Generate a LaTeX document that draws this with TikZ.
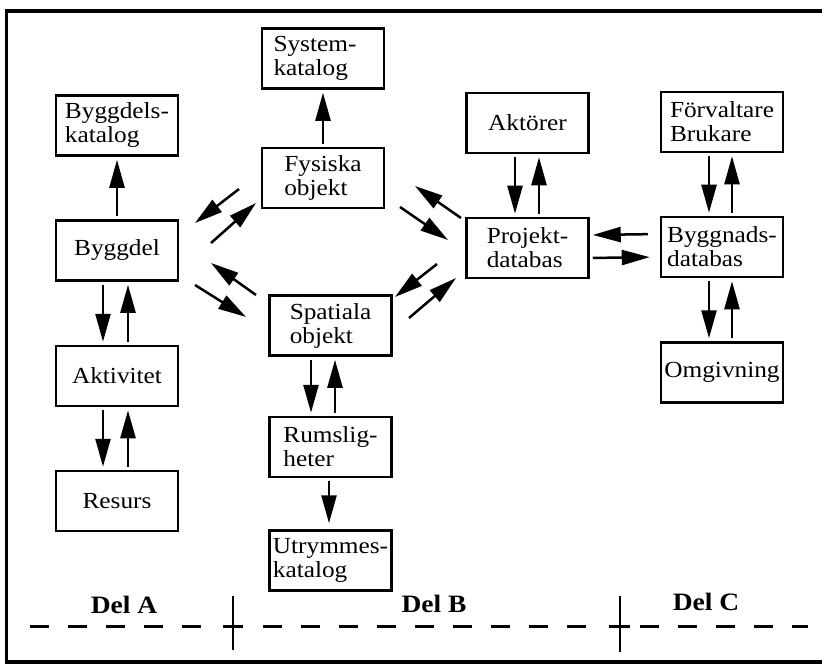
\documentclass[tikz,border=0pt]{standalone}
\usepackage{fontspec}
\setmainfont{Liberation Serif}[FakeStretch=1.1]
\usetikzlibrary{arrows.meta}

\tikzset{
  box/.style={draw, line width=2.5bp, minimum width=122bp, minimum height=60bp,
    inner sep=0pt, align=left, font=\fontsize{23bp}{24bp}\selectfont},
  arr/.style={line width=2.5bp, -{Triangle[length=28bp,width=15bp]}},
  link/.style={arr, shorten <=3bp, shorten >=3bp},
  dellabel/.style={anchor=base, font=\fontsize{25bp}{26bp}\selectfont\bfseries},
  delline/.style={line width=3bp, dash pattern=on 19bp off 19bp}
}

\begin{document}
\begin{tikzpicture}[x=1bp, y=-1bp]
	\useasboundingbox (0,0) rectangle (822,665);
	\draw[line width=3.5bp] (822,11) -- (6.5,11) -- (6.5,662) -- (822,662);

	% Del A
	\node[box] (bdkat) at (117,125.5) {Byggdels-\\katalog};
	\node[box] (byggdel) at (117,250.5) {Byggdel};
	\node[box] (aktivitet) at (117,376) {Aktivitet};
	\node[box] (resurs) at (117,501) {Resurs};

	% Del B
	\node[box, text width=99bp] (syskat) at (323,58.5) {System-\\katalog};
	\node[box] (fysiska) at (323,178) {Fysiska\\objekt};
	\node[box] (spatiala) at (330.5,325.5) {Spatiala\\objekt};
	\node[box] (rumslig) at (330.5,447) {Rumslig-\\heter};
	\node[box] (utrymme) at (330.5,560.5) {Utrymmes-\\katalog};
	\node[box] (aktorer) at (527.5,123) {Aktörer};
	\node[box] (projekt) at (527.5,248) {Projekt-\\databas};

	% Del C
	\node[box] (forvalt) at (722,122) {Förvaltare\\Brukare};
	\node[box] (byggnad) at (722,247) {Byggnads-\\databas};
	\node[box] (omgiv) at (722,372.5) {Omgivning};

	% vertical links
	\draw[link] (byggdel) -- (bdkat);
	\draw[link] ([xshift=-14bp]byggdel.south) -- ([xshift=-14bp]aktivitet.north);
	\draw[link] ([xshift=11bp]aktivitet.north) -- ([xshift=11bp]byggdel.south);
	\draw[link] ([xshift=-14bp]aktivitet.south) -- ([xshift=-14bp]resurs.north);
	\draw[link] ([xshift=11bp]resurs.north) -- ([xshift=11bp]aktivitet.south);
	\draw[link] (fysiska) -- (syskat);
	\draw[link] ([xshift=-19.5bp]spatiala.south) -- ([xshift=-19.5bp]rumslig.north);
	\draw[link] ([xshift=4.5bp]rumslig.north) -- ([xshift=4.5bp]spatiala.south);
	\draw[link, shorten >=6bp] ([xshift=-1.5bp]rumslig.south) -- ([xshift=-1.5bp]utrymme.north);
	\draw[link] ([xshift=-12.5bp]aktorer.south) -- ([xshift=-12.5bp]projekt.north);
	\draw[link] ([xshift=11.5bp]projekt.north) -- ([xshift=11.5bp]aktorer.south);
	\draw[link] ([xshift=-13bp]forvalt.south) -- ([xshift=-13bp]byggnad.north);
	\draw[link] ([xshift=10bp]byggnad.north) -- ([xshift=10bp]forvalt.south);
	\draw[link] ([xshift=-13bp]byggnad.south) -- ([xshift=-13bp]omgiv.north);
	\draw[link] ([xshift=10bp]omgiv.north) -- ([xshift=10bp]byggnad.south);

	% horizontal links
	\draw[link, shorten <=12bp] ([yshift=13bp]byggnad.west) -- ([yshift=13bp]projekt.east);
	\draw[link, shorten >=10bp] ([yshift=-10bp]projekt.east) -- ([yshift=-10bp]byggnad.west);

	% diagonal links
	\coordinate (fa1) at (239,189); \coordinate (fa2) at (195,223);
	\coordinate (fb1) at (211,243); \coordinate (fb2) at (256,203);
	\coordinate (sa1) at (256,295); \coordinate (sa2) at (211,263);
	\coordinate (sb1) at (195,285); \coordinate (sb2) at (246,317);
	\coordinate (pa1) at (461,218); \coordinate (pa2) at (415,186);
	\coordinate (pb1) at (400,207); \coordinate (pb2) at (448,240);
	\coordinate (qa1) at (437,264); \coordinate (qa2) at (395,297);
	\coordinate (qb1) at (409,318); \coordinate (qb2) at (456,278);
	\draw[arr] (fa1) -- (fa2);
	\draw[arr] (fb1) -- (fb2);
	\draw[arr] (sa1) -- (sa2);
	\draw[arr] (sb1) -- (sb2);
	\draw[arr] (pa1) -- (pa2);
	\draw[arr] (pb1) -- (pb2);
	\draw[arr] (qa1) -- (qa2);
	\draw[arr] (qb1) -- (qb2);

	% parts
	\draw[delline] (30,626) -- (202,626);
	\draw[delline] (263,626) -- (588,626);
	\draw[delline] (640,626) -- (808,626);
	\draw[line width=2.5bp] (233,596) -- (233,650);
	\draw[line width=2.5bp] (620,596) -- (620,652);
	\draw[line width=3bp] (223,626) -- (243,626);
	\draw[line width=3bp] (609,626) -- (630,626);
	\node[dellabel] (dela) at (124,613) {Del A};
	\node[dellabel] (delb) at (434,612) {Del B};
	\node[dellabel] (delc) at (706,610) {Del C};
\end{tikzpicture}
\end{document}
